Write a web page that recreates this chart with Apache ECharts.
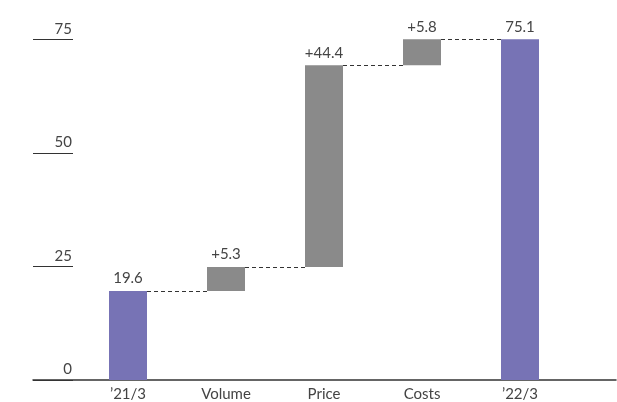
<!DOCTYPE html>
<html>
<head>
<meta charset="utf-8">
<script src="https://cdn.jsdelivr.net/npm/echarts@6/dist/echarts.min.js"></script>
<style>html,body{margin:0;padding:0;background:#fff}#c{width:617px;height:402px}</style>
</head>
<body>
<div id="c"></div>
<script>
var categories = ["\u201921/3", "Volume", "Price", "Costs", "\u201922/3"];
var startValue = 19.6;
var changes = [5.3, 44.4, 5.8];
var endValue = 75.1;
var yTicks = [0, 25, 50, 75];

var totalColor = '#7773b5';
var changeColor = '#8a8a8a';
var barW = 38;
var font = 'Lato, "Open Sans", sans-serif';

var bases = [0], heights = [startValue], labels = [String(startValue)], levels = [startValue];
var cum = startValue;
changes.forEach(function (c) {
  bases.push(cum);
  heights.push(c);
  labels.push('+' + c);
  cum = Math.round((cum + c) * 10) / 10;
  levels.push(cum);
});
bases.push(0); heights.push(endValue); labels.push(String(endValue));

var connectors = levels.map(function (lv, i) { return [i, lv]; });

var chart = echarts.init(document.getElementById('c'), null, {renderer: 'canvas'});
chart.setOption({
  animation: false,
  grid: [
    {left: 33, right: 1, top: 39.3, bottom: 22},
    {left: 79, width: 490, top: 39.3, bottom: 22}
  ],
  xAxis: [
    {gridIndex: 0, type: 'value', min: 0, max: 1,
     axisLine: {show: true, lineStyle: {color: '#333', width: 1.5}},
     axisTick: {show: false}, axisLabel: {show: false}, splitLine: {show: false}},
    {gridIndex: 1, type: 'category', data: categories,
     axisLine: {show: false}, axisTick: {show: false},
     axisLabel: {color: '#444', fontSize: 15, fontFamily: font, margin: 7}}
  ],
  yAxis: [
    {gridIndex: 0, type: 'value', min: 0, max: 75, interval: 25, offset: -40,
     axisLine: {show: false},
     axisTick: {show: true, length: 40, lineStyle: {color: '#333', width: 1.2}},
     axisLabel: {color: '#444', fontSize: 15, fontFamily: font, margin: 1,
                 verticalAlign: 'bottom', padding: [0, 0, 3, 0]},
     splitLine: {show: false}},
    {gridIndex: 1, type: 'value', min: 0, max: 75, show: false}
  ],
  series: [
    {type: 'bar', xAxisIndex: 1, yAxisIndex: 1, stack: 'w', barWidth: barW,
     itemStyle: {color: 'transparent'}, data: bases, silent: true},
    {type: 'bar', xAxisIndex: 1, yAxisIndex: 1, stack: 'w', barWidth: barW,
     data: heights.map(function (h, i) {
       return {value: h, itemStyle: {color: (i === 0 || i === heights.length - 1) ? totalColor : changeColor}};
     }),
     label: {show: true, position: 'top', distance: 5, color: '#444', fontSize: 15, fontFamily: font,
             formatter: function (p) { return labels[p.dataIndex]; }}},
    {type: 'custom', xAxisIndex: 1, yAxisIndex: 1, data: connectors, z: 5,
     renderItem: function (params, api) {
       var i = api.value(0), lv = api.value(1);
       var p0 = api.coord([i, lv]);
       var p1 = api.coord([i + 1, lv]);
       var y = Math.round(p0[1]) + 0.5;
       return {type: 'line',
         shape: {x1: p0[0] + barW / 2, y1: y, x2: p1[0] - barW / 2, y2: y},
         style: {stroke: '#333', lineWidth: 1, lineDash: [4, 3]}};
     }}
  ]
});
</script>
</body>
</html>
